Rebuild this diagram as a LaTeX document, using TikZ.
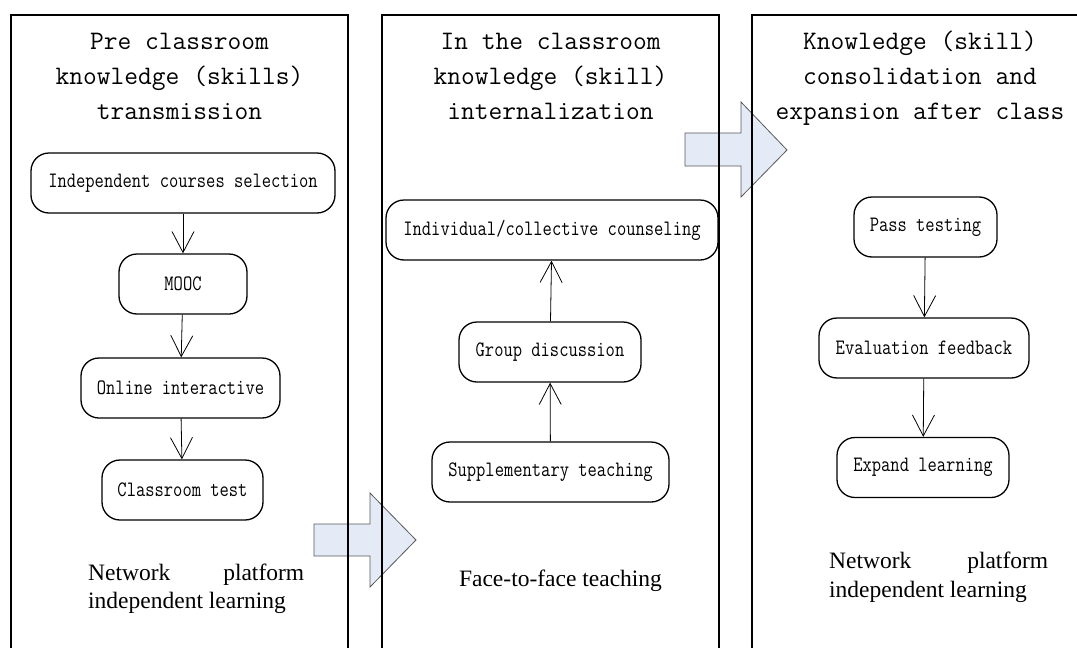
\documentclass[tikz,border=0pt]{standalone}
\usepackage{fontspec}
\setmainfont{Liberation Serif}
\newfontfamily\boxfont{Latin Modern Mono}[FakeStretch=0.82]
\usetikzlibrary{arrows.meta}

\begin{document}
\begin{tikzpicture}[x=1pt,y=-1pt,
  panel/.style={draw=black,line width=1.2pt},
  stepbox/.style={draw=black,line width=1.3pt,rounded corners=18pt,minimum height=60pt,inner sep=0pt,
    font=\boxfont\fontsize{22}{24}\selectfont},
  flow/.style={draw=black,line width=0.8pt,-{Straight Barb[length=21pt,width=22pt,line width=0.8pt]}},
  title/.style={anchor=base,inner sep=0pt,font=\ttfamily\fontsize{26.7}{30}\selectfont},
  note/.style={anchor=base west,inner sep=0pt,font=\fontsize{23.5}{28}\selectfont},
  bigarrow/.style={draw=black!65,fill={rgb,255:red,228;green,234;blue,246},line width=0.8pt,line join=miter}
]
\clip (0,0) rectangle (1077,648);

% block arrows between the phases (drawn under the panel frames)
\draw[bigarrow] (314,524) -- (370,524) -- (370,493) -- (416,540) -- (370,587) -- (370,556) -- (314,556) -- cycle;
\draw[bigarrow] (685,133) -- (741,133) -- (741,102) -- (787,150) -- (741,197) -- (741,166) -- (685,166) -- cycle;

% phase frames, open at the bottom
\draw[panel] (11,670) -- (11,15) -- (348,15) -- (348,670);
\draw[panel] (382,670) -- (382,15) -- (719,15) -- (719,670);
\draw[panel] (752,670) -- (752,15) -- (1095,15) -- (1095,670);

% phase titles
\node[title] (t1a) at (179.5,49) {Pre classroom};
\node[title] (t1b) at (179.5,84) {knowledge (skills)};
\node[title] (t1c) at (179.5,119) {transmission};
\node[title] (t2a) at (550.5,49) {In the classroom};
\node[title] (t2b) at (550.5,84) {knowledge (skill)};
\node[title] (t2c) at (550.5,119) {internalization};
\node[title] (t3a) at (920,49) {Knowledge (skill)};
\node[title] (t3b) at (920,84) {consolidation and};
\node[title] (t3c) at (920,119) {expansion after class};

% pre-class steps
\node[stepbox,minimum width=304pt] (ics) at (183,183) {Independent courses selection};
\node[stepbox,minimum width=128pt] (mooc) at (183,284) {MOOC};
\node[stepbox,minimum width=199pt] (oi) at (180.5,388) {Online interactive};
\node[stepbox,minimum width=161pt] (ct) at (182.5,490) {Classroom test};
\draw[flow] (ics) -- (mooc);
\draw[flow] (mooc) -- (oi);
\draw[flow] (oi) -- (ct);

% in-class steps
\node[stepbox,minimum width=332pt] (icc) at (552,230) {Individual/collective counseling};
\node[stepbox,minimum width=182pt] (gd) at (550,352) {Group discussion};
\node[stepbox,minimum width=237pt] (st) at (550.5,472) {Supplementary teaching};
\draw[flow] (st) -- (gd);
\draw[flow] (gd) -- (icc);

% after-class steps
\node[stepbox,minimum width=143pt] (pt) at (925.5,227) {Pass testing};
\node[stepbox,minimum width=210pt] (ef) at (924,348) {Evaluation feedback};
\node[stepbox,minimum width=172pt] (el) at (923,467.5) {Expand learning};
\draw[flow] (pt) -- (ef);
\draw[flow] (ef) -- (el);

% learning mode captions
\node[note] (n1a) at (88,580) {\makebox[216pt][s]{Network platform}};
\node[note] (n1b) at (88,608) {independent learning};
\node[note,anchor=base] (n2) at (560.5,586) {Face-to-face teaching};
\node[note] (n3a) at (829,568) {\makebox[219pt][s]{Network platform}};
\node[note] (n3b) at (829,597) {independent learning};
\end{tikzpicture}
\end{document}
